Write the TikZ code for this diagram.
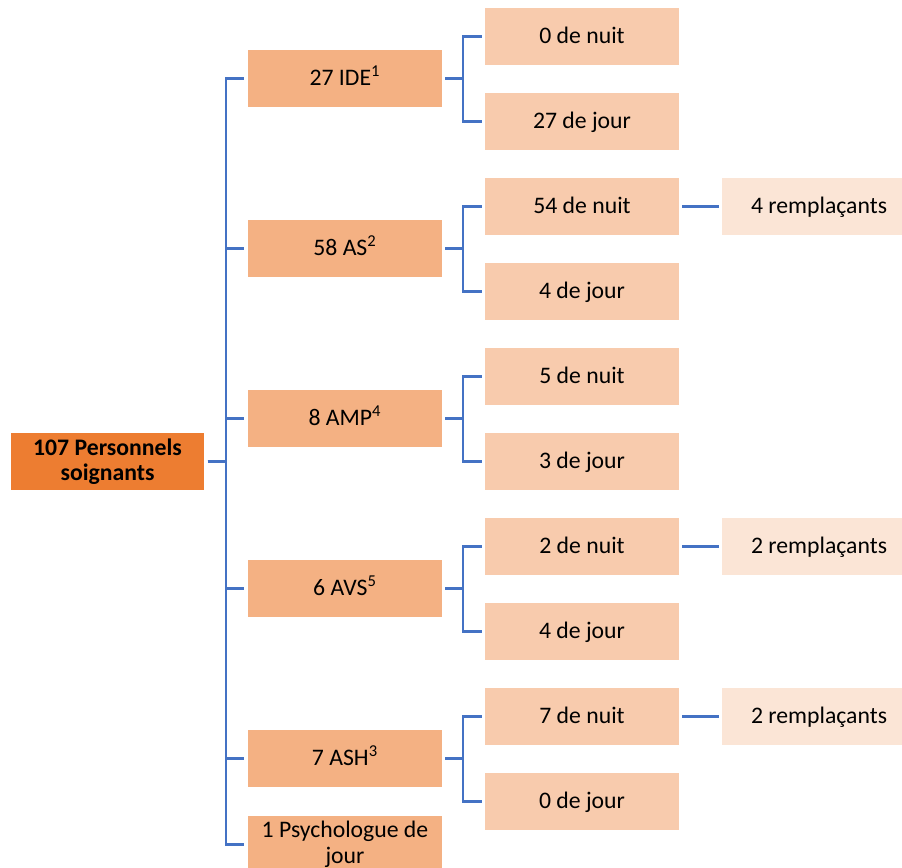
\documentclass[tikz,border=0pt]{standalone}
\usepackage{fontspec}
\setmainfont{Carlito}
\usetikzlibrary{positioning}

\definecolor{orgdark}{HTML}{ED7D31}
\definecolor{orgmid}{HTML}{F4B183}
\definecolor{orglight}{HTML}{F8CBAD}
\definecolor{orgpale}{HTML}{FBE5D6}
\definecolor{linkblue}{HTML}{4472C4}

\begin{document}
\begin{tikzpicture}[x=0.02cm,y=-0.02cm]
\tikzset{
  box/.style={minimum width=3.88cm,minimum height=1.14cm,inner sep=0pt,
    font=\fontsize{13.5}{15}\selectfont,align=center},
  oneline/.style={box,text height=10pt,text depth=2pt},
  rootbox/.style={box,fill=orgdark,font=\fontsize{13.5}{14.5}\selectfont\bfseries},
  catbox/.style={oneline,fill=orgmid},
  psybox/.style={box,fill=orgmid},
  shiftbox/.style={oneline,fill=orglight},
  replbox/.style={oneline,fill=orgpale},
  link/.style={draw=linkblue,line width=1.25pt,shorten <=0.06cm,shorten >=0.06cm},
  trunk/.style={link,shorten >=0.08cm}
}
\useasboundingbox (0,0) rectangle (902,868);
% root
\node[rootbox] (root) at (107.5,461.5) {107 Personnels\\soignants};
% categories
\node[catbox] (ide) at (345,78.5) {27 IDE\textsuperscript{1}};
\node[catbox] (as) at (345,248.5) {58 AS\textsuperscript{2}};
\node[catbox] (amp) at (345,418.5) {8 AMP\textsuperscript{4}};
\node[catbox] (avs) at (345,588.5) {6 AVS\textsuperscript{5}};
\node[catbox] (ash) at (345,758.5) {7 ASH\textsuperscript{3}};
\node[psybox] (psy) at (345,844.5) {1 Psychologue de\\jour};
% night / day
\node[shiftbox] (ide-n) at (582,36.5) {0 de nuit};
\node[shiftbox] (ide-j) at (582,121.5) {27 de jour};
\node[shiftbox] (as-n) at (582,206.5) {54 de nuit};
\node[shiftbox] (as-j) at (582,291.5) {4 de jour};
\node[shiftbox] (amp-n) at (582,376.5) {5 de nuit};
\node[shiftbox] (amp-j) at (582,461.5) {3 de jour};
\node[shiftbox] (avs-n) at (582,546.5) {2 de nuit};
\node[shiftbox] (avs-j) at (582,631.5) {4 de jour};
\node[shiftbox] (ash-n) at (582,716.5) {7 de nuit};
\node[shiftbox] (ash-j) at (582,801.5) {0 de jour};
% replacements
\node[replbox] (as-r) at (819,206.5) {4 remplaçants};
\node[replbox] (avs-r) at (819,546.5) {2 remplaçants};
\node[replbox] (ash-r) at (819,716.5) {2 remplaçants};
% connectors
\draw[trunk] (root.east) -- ++(21,0) |- (ide.west);
\draw[trunk] (root.east) -- ++(21,0) |- (as.west);
\draw[trunk] (root.east) -- ++(21,0) |- (amp.west);
\draw[trunk] (root.east) -- ++(21,0) |- (avs.west);
\draw[trunk] (root.east) -- ++(21,0) |- (ash.west);
\draw[trunk] (root.east) -- ++(21,0) |- (psy.west);
\draw[link] (ide.east) -- ++(21,0) |- (ide-n.west);
\draw[link] (ide.east) -- ++(21,0) |- (ide-j.west);
\draw[link] (as.east) -- ++(21,0) |- (as-n.west);
\draw[link] (as.east) -- ++(21,0) |- (as-j.west);
\draw[link] (amp.east) -- ++(21,0) |- (amp-n.west);
\draw[link] (amp.east) -- ++(21,0) |- (amp-j.west);
\draw[link] (avs.east) -- ++(21,0) |- (avs-n.west);
\draw[link] (avs.east) -- ++(21,0) |- (avs-j.west);
\draw[link] (ash.east) -- ++(21,0) |- (ash-n.west);
\draw[link] (ash.east) -- ++(21,0) |- (ash-j.west);
\draw[link] (as-n) -- (as-r);
\draw[link] (avs-n) -- (avs-r);
\draw[link] (ash-n) -- (ash-r);
\end{tikzpicture}
\end{document}
